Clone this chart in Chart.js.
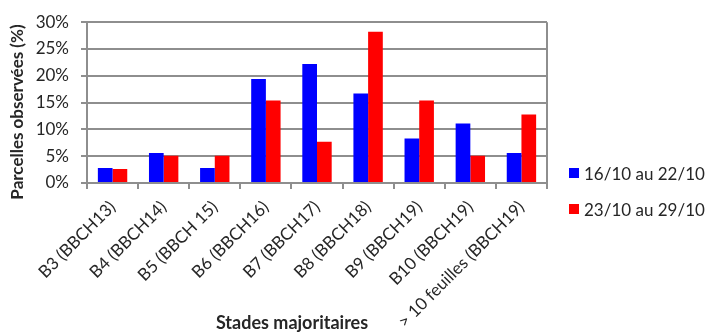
<!DOCTYPE html>
<html>
<head>
<meta charset="utf-8">
<script src="https://cdn.jsdelivr.net/npm/chart.js@4/dist/chart.umd.min.js"></script>
<style>
  html, body { margin: 0; padding: 0; background: #ffffff; }
  #wrap { width: 709px; height: 334px; position: relative; }
</style>
</head>
<body>
<div id="wrap"><canvas id="chart"></canvas></div>
<script>
// Stades majoritaires observés, part des parcelles (%)
const categories = [
  'B3 (BBCH13)', 'B4 (BBCH14)', 'B5 (BBCH 15)', 'B6 (BBCH16)', 'B7 (BBCH17)',
  'B8 (BBCH18)', 'B9 (BBCH19)', 'B10 (BBCH19)', '> 10 feuilles (BBCH19)'
];
const seriesNames = ['16/10 au 22/10', '23/10 au 29/10'];
const week1 = [2.8, 5.6, 2.8, 19.4, 22.2, 16.7, 8.3, 11.1, 5.6];
const week2 = [2.6, 5.1, 5.1, 15.4, 7.7, 28.2, 15.4, 5.1, 12.8];
const yTicks = [0, 5, 10, 15, 20, 25, 30];
const xTitle = 'Stades majoritaires';
const yTitle = 'Parcelles observées (%)';

const FONT = 'Lato, "Open Sans", sans-serif';
const GRID = '#8e8e8e';
const TEXT = '#262626';
const colors = ['#0000ff', '#ff0000'];

// legend on the right plus both axis titles, drawn after the chart
const extras = {
  id: 'extras',
  afterDraw(chart) {
    const { ctx, chartArea } = chart;
    ctx.save();
    ctx.font = '17px ' + FONT;
    ctx.textBaseline = 'middle';
    ctx.textAlign = 'left';
    chart.data.datasets.forEach((ds, i) => {
      const y = 173 + i * 36;
      const x = chartArea.right + 22;
      ctx.fillStyle = ds.backgroundColor;
      ctx.fillRect(x, y - 5, 10, 10);
      ctx.fillStyle = TEXT;
      ctx.fillText(ds.label, x + 15, y + 2);
    });
    ctx.fillStyle = TEXT;
    ctx.font = 'bold 18px ' + FONT;
    ctx.textAlign = 'center';
    ctx.fillText(xTitle, (chartArea.left + chartArea.right) / 2 - 25, 323);
    ctx.translate(18, 112);
    ctx.rotate(-Math.PI / 2);
    ctx.font = 'bold 17px ' + FONT;
    ctx.fillText(yTitle, 0, 0);
    ctx.restore();
  }
};

new Chart(document.getElementById('chart'), {
  type: 'bar',
  data: {
    labels: categories,
    datasets: [
      { label: seriesNames[0], data: week1, backgroundColor: colors[0] },
      { label: seriesNames[1], data: week2, backgroundColor: colors[1] }
    ]
  },
  options: {
    responsive: true,
    maintainAspectRatio: false,
    animation: false,
    layout: { padding: { top: 19, right: 162, left: 0, bottom: 0 } },
    datasets: { bar: { categoryPercentage: 0.575, barPercentage: 1.0 } },
    plugins: { legend: { display: false }, tooltip: { enabled: false } },
    scales: {
      x: {
        afterFit(scale) { scale.height = 151; },
        grid: {
          offset: true,
          drawOnChartArea: true,
          color: (c) => (c.type === 'tick' ? 'rgba(0,0,0,0)' : GRID),
          tickColor: GRID,
          lineWidth: 2,
          tickLength: 6
        },
        border: { display: true, color: GRID, width: 2 },
        ticks: {
          autoSkip: false,
          minRotation: 45,
          maxRotation: 45,
          padding: 8,
          color: TEXT,
          font: { family: FONT, size: 17 }
        }
      },
      y: {
        min: 0,
        max: 30,
        afterFit(scale) { scale.width = 87; },
        afterBuildTicks(scale) { scale.ticks = yTicks.map(v => ({ value: v })); },
        grid: { color: GRID, lineWidth: 2, tickLength: 6 },
        border: { display: true, color: GRID, width: 2 },
        ticks: {
          padding: 12,
          color: TEXT,
          font: { family: FONT, size: 17 },
          callback: (v) => v + '%'
        }
      }
    }
  },
  plugins: [extras]
});
</script>
</body>
</html>
